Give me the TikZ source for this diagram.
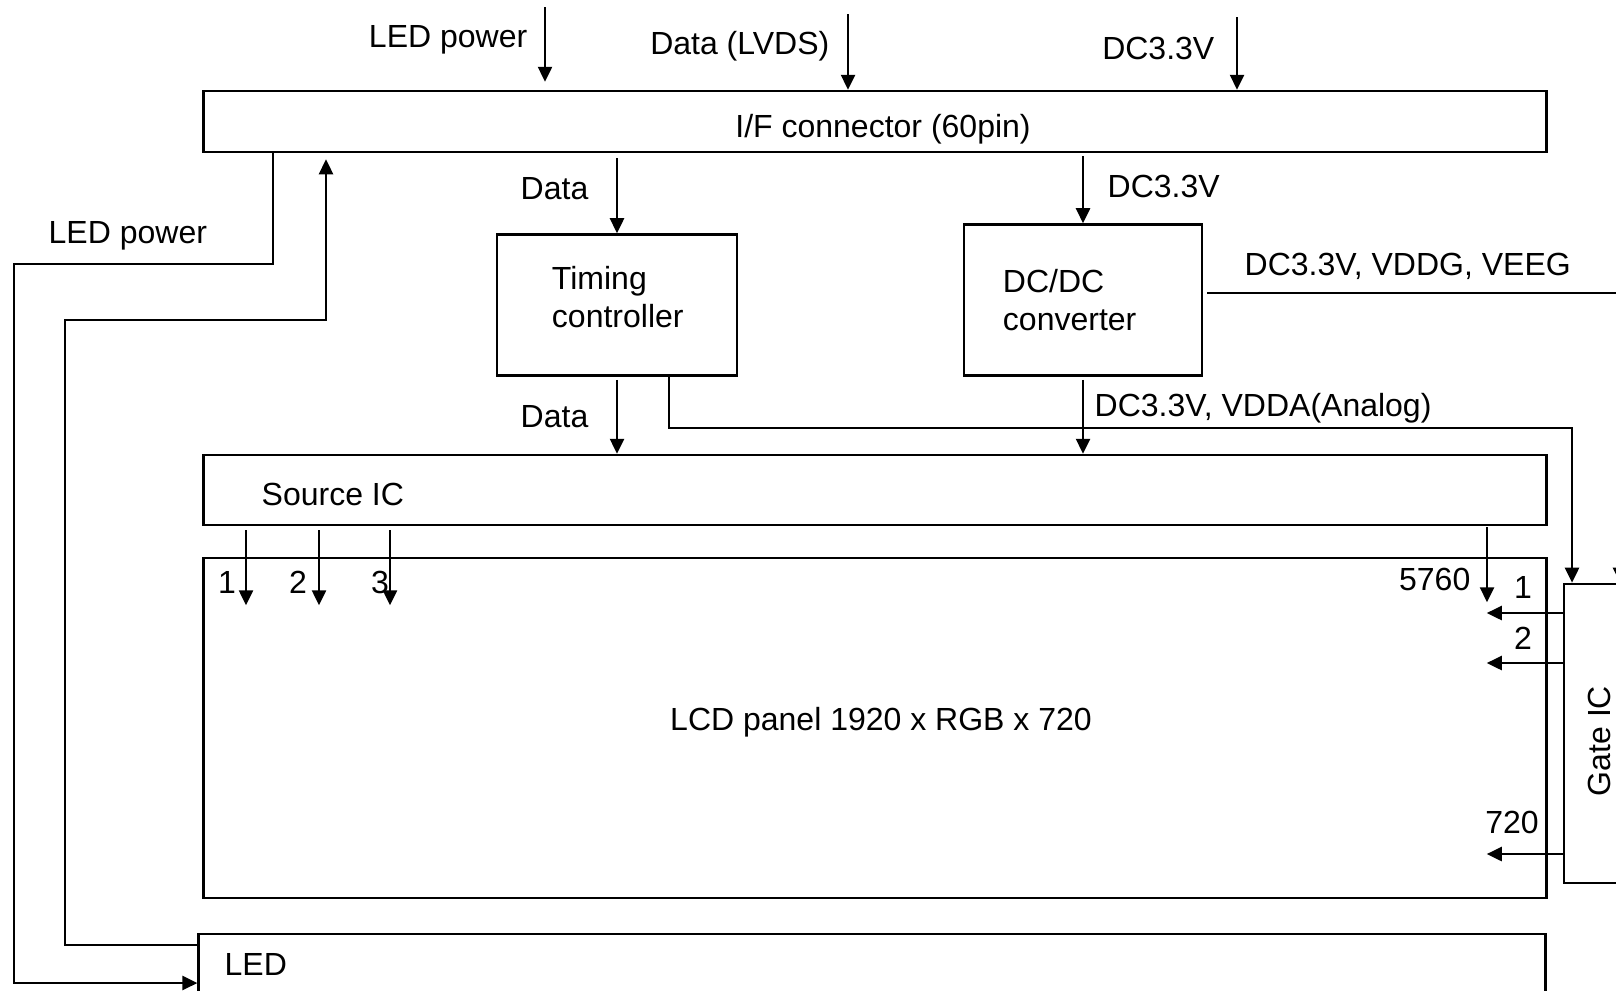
\documentclass[tikz,border=0pt]{standalone}
\usepackage{fontspec}
\setmainfont{Liberation Sans}
\usetikzlibrary{arrows.meta,positioning,calc}

\begin{document}
\begin{tikzpicture}[x=0.01cm, y=-0.01cm,
  every node/.style={font=\fontsize{9.1}{10.8}\selectfont},
  blk/.style={rectangle, draw, line width=0.7pt, inner sep=0pt},
  lbl/.style={inner sep=0pt},
  wire/.style={line width=0.7pt},
  arr/.style={wire, -{Triangle[length=0.15cm, width=0.14cm]}}
]
  \useasboundingbox (0,0) rectangle (1616,990);
  \clip (0,0) rectangle (1616,990);
  % Blocks
  \node[blk, minimum width=13.42cm, minimum height=0.61cm] (ifc) at (875,121.5) {};
  \node[blk, minimum width=2.40cm, minimum height=1.41cm] (tcon) at (617,305) {};
  \node[blk, minimum width=2.38cm, minimum height=1.51cm, text width=1.60cm, align=left] (dcdc) at (1083,300) {DC/DC\\converter};
  \node[blk, minimum width=13.42cm, minimum height=0.70cm] (src) at (875,490) {};
  \node[blk, minimum width=13.42cm, minimum height=3.40cm] (lcd) at (875,728) {};
  \node[blk, minimum width=0.76cm, minimum height=2.99cm] (gate) at (1602,733.5) {};
  \node[blk, minimum width=13.46cm, minimum height=0.82cm] (led) at (872,975) {};
  % Block labels
  \node[lbl, anchor=base] (ifclbl) at (883,137) {I/F connector (60pin)};
  \node[lbl, text width=1.34cm, align=left] (tconlbl) at (619,297) {Timing\\controller};
  \node[lbl, anchor=base west] (srclbl) at (261,505) {Source IC};
  \node[lbl, anchor=base] (lcdlbl) at (881,730) {LCD panel 1920 x RGB x 720};
  \node[lbl, anchor=base west] (ledlbl) at (224,975) {LED};
  \node[lbl, rotate=90] (gatelbl) at (1599,741) {Gate IC};
  % Inputs
  \coordinate (inled) at (545,7);
  \coordinate (indata) at (848,14);
  \coordinate (inpwr) at (1237,17);
  \draw[arr, shorten >=0.08cm] (inled) -- (inled |- ifc.north);
  \draw[arr] (indata) -- (indata |- ifc.north);
  \draw[arr] (inpwr) -- (inpwr |- ifc.north);
  \node[lbl, anchor=base east] (tledpwr) at (528,47) {LED power};
  \node[lbl, anchor=base east] (tlvds) at (830,54) {Data (LVDS)};
  \node[lbl, anchor=base east] (tdc) at (1215,59) {DC3.3V};
  % Connector to timing controller and DC/DC
  \draw[arr, shorten <=0.05cm] (tcon.north |- ifc.south) -- (tcon.north);
  \draw[arr, shorten <=0.03cm] (dcdc.north |- ifc.south) -- (dcdc.north);
  \node[lbl, anchor=base west] (tdata) at (520,199) {Data};
  \node[lbl, anchor=base west] (tdcin) at (1107,197) {DC3.3V};
  % To source IC and gate IC
  \draw[arr, shorten <=0.03cm] (tcon.south) -- (tcon.south |- src.north);
  \draw[arr, shorten <=0.03cm] (dcdc.south) -- (dcdc.south |- src.north);
  \coordinate (gturn) at (1572,428);
  \draw[arr] ([xshift=0.52cm]tcon.south) |- (gturn) -- (gturn |- gate.north);
  \draw[arr, shorten <=0.04cm] ([yshift=0.07cm]dcdc.east) -| ([xshift=0.18cm]gate.north);
  \node[lbl, anchor=base west] (tdata2) at (520,427) {Data};
  \node[lbl, anchor=base west] (tvdda) at (1094,416) {DC3.3V, VDDA(Analog)};
  \node[lbl, anchor=base west] (tvddg) at (1244,275) {DC3.3V, VDDG, VEEG};
  % Source lines
  \foreach \x in {246,319,390}
    \draw[arr, shorten <=0.04cm] (\x,0 |- src.south) -- ++(0,79);
  \draw[arr, shorten <=0.01cm] (1487,0 |- src.south) -- ++(0,76);
  \node[lbl, anchor=base] (s1) at (227,593) {1};
  \node[lbl, anchor=base] (s2) at (298,593) {2};
  \node[lbl, anchor=base] (s3) at (380,593) {3};
  \node[lbl, anchor=base east] (s5760) at (1471,590) {5760};
  % Gate lines
  \foreach \y in {613,663,854}
    \draw[arr] (gate.west |- 0,\y) -- ++(-76,0);
  \node[lbl, anchor=base] (g1) at (1523,598) {1};
  \node[lbl, anchor=base] (g2) at (1523,649) {2};
  \node[lbl, anchor=base] (g720) at (1512,833) {720};
  % LED power
  \draw[arr] (273,0 |- ifc.south) |- (14,264) |- (led.west |- 0,983);
  \draw[arr, shorten >=0.06cm] (led.west |- 0,945) -| (65,320) -| (326,0 |- ifc.south);
  \node[lbl, anchor=base west] (ledpwr) at (48,243) {LED power};
\end{tikzpicture}
\end{document}
